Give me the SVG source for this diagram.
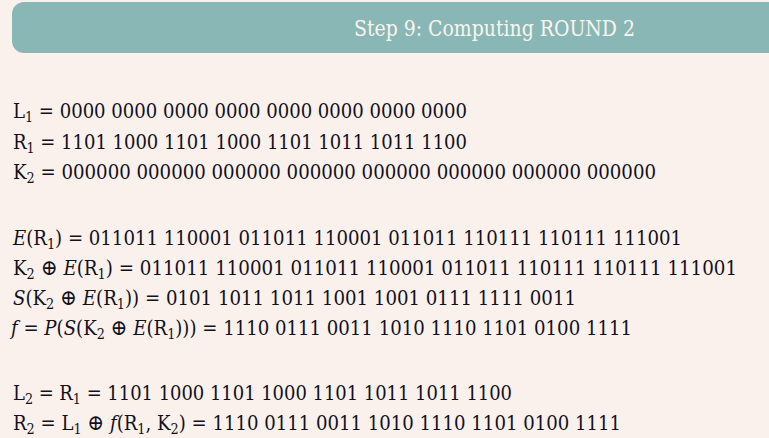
<svg xmlns="http://www.w3.org/2000/svg" width="769" height="438" viewBox="0 0 769 438">
<style>
.bg{fill:#FAF1EC}
.hdr{fill:#88B7B5}
.title{font-family:"DejaVu Serif Condensed","DejaVu Serif",serif;font-stretch:condensed;font-size:22px;fill:#FBF4EE}
.t{font-family:"DejaVu Serif Condensed","DejaVu Serif",serif;font-stretch:condensed;font-size:19.8px;fill:#101020}
.s{font-size:14px}
.i{font-style:italic}
.o{font-size:22px}
</style>
<rect class="bg" x="0" y="0" width="769" height="438"/>
<g id="header">
<rect class="hdr" x="12" y="2" width="790" height="51" rx="12"/>
<text class="title" x="354" y="36" textLength="281" lengthAdjust="spacingAndGlyphs">Step 9: Computing ROUND 2</text>
</g>
<g id="inputs">
<text class="t" x="13" y="118" textLength="454" lengthAdjust="spacingAndGlyphs">L<tspan class="s" dy="4">1</tspan><tspan dy="-4"> = 0000 0000 0000 0000 0000 0000 0000 0000</tspan></text>
<text class="t" x="13" y="148.5" textLength="454" lengthAdjust="spacingAndGlyphs">R<tspan class="s" dy="4">1</tspan><tspan dy="-4"> = 1101 1000 1101 1000 1101 1011 1011 1100</tspan></text>
<text class="t" x="13" y="179" textLength="643" lengthAdjust="spacingAndGlyphs">K<tspan class="s" dy="4">2</tspan><tspan dy="-4"> = 000000 000000 000000 000000 000000 000000 000000 000000</tspan></text>
</g>
<g id="function">
<text class="t" x="13" y="244.5" textLength="669" lengthAdjust="spacingAndGlyphs"><tspan class="i">E</tspan>(R<tspan class="s" dy="4">1</tspan><tspan dy="-4">) = 011011 110001 011011 110001 011011 110111 110111 111001</tspan></text>
<text class="t" x="13" y="274.5" textLength="724" lengthAdjust="spacingAndGlyphs">K<tspan class="s" dy="4">2</tspan><tspan dy="-4"> </tspan><tspan class="o">⊕</tspan> <tspan class="i">E</tspan>(R<tspan class="s" dy="4">1</tspan><tspan dy="-4">) = 011011 110001 011011 110001 011011 110111 110111 111001</tspan></text>
<text class="t" x="13" y="304.5" textLength="563" lengthAdjust="spacingAndGlyphs"><tspan class="i">S</tspan>(K<tspan class="s" dy="4">2</tspan><tspan dy="-4"> </tspan><tspan class="o">⊕</tspan> <tspan class="i">E</tspan>(R<tspan class="s" dy="4">1</tspan><tspan dy="-4">)) = 0101 1011 1011 1001 1001 0111 1111 0011</tspan></text>
<text class="t" x="11" y="334.5" textLength="621" lengthAdjust="spacingAndGlyphs"><tspan class="i">f</tspan> = <tspan class="i">P</tspan>(<tspan class="i">S</tspan>(K<tspan class="s" dy="4">2</tspan><tspan dy="-4"> </tspan><tspan class="o">⊕</tspan> <tspan class="i">E</tspan>(R<tspan class="s" dy="4">1</tspan><tspan dy="-4">))) = 1110 0111 0011 1010 1110 1101 0100 1111</tspan></text>
</g>
<g id="outputs">
<text class="t" x="13" y="400" textLength="499" lengthAdjust="spacingAndGlyphs">L<tspan class="s" dy="4">2</tspan><tspan dy="-4"> = R</tspan><tspan class="s" dy="4">1</tspan><tspan dy="-4"> = 1101 1000 1101 1000 1101 1011 1011 1100</tspan></text>
<text class="t" x="13" y="430" textLength="608" lengthAdjust="spacingAndGlyphs">R<tspan class="s" dy="4">2</tspan><tspan dy="-4"> = L</tspan><tspan class="s" dy="4">1</tspan><tspan dy="-4"> </tspan><tspan class="o">⊕</tspan> <tspan class="i">f</tspan>(R<tspan class="s" dy="4">1</tspan><tspan dy="-4">, K</tspan><tspan class="s" dy="4">2</tspan><tspan dy="-4">) = 1110 0111 0011 1010 1110 1101 0100 1111</tspan></text>
</g>
</svg>
